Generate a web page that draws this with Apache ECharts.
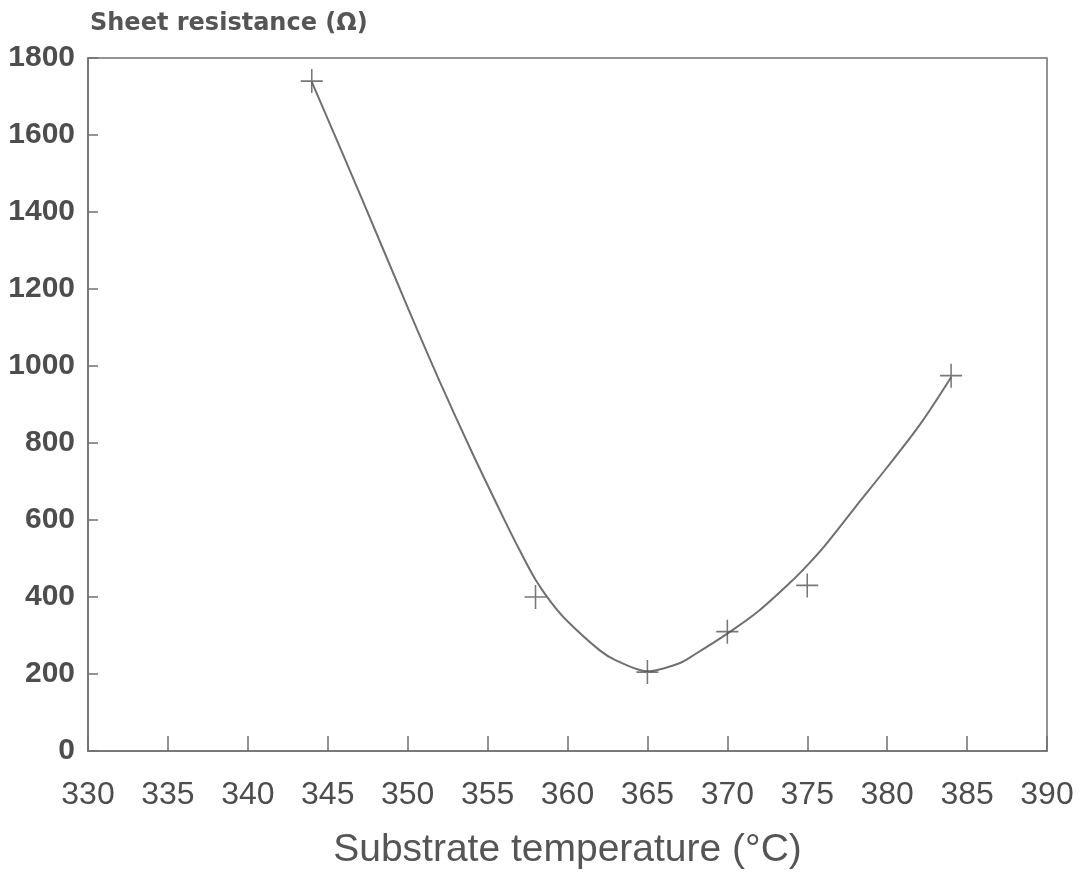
<!DOCTYPE html>
<html>
<head>
<meta charset="utf-8">
<script src="https://cdn.jsdelivr.net/npm/echarts@6/dist/echarts.min.js"></script>
<style>
  html, body { margin: 0; padding: 0; background: #fff; }
  #chart { width: 1085px; height: 876px; }
</style>
</head>
<body>
<div id="chart"></div>
<script>
// Measured sheet resistance versus substrate temperature
const temperatures = [344, 358, 365, 370, 375, 384];
const resistances = [1740, 400, 205, 310, 430, 975];

// Smooth fitted trend curve through the measurements
const fitTemperatures = [344, 347, 350, 352, 354, 356, 357, 358, 359, 360, 362, 363, 365, 367, 368, 370, 372, 374, 375, 376, 378, 380, 382, 384];
const fitResistances = [1738, 1448, 1152, 960, 778, 605, 522, 445, 385, 337, 262, 236, 207, 228, 252, 305, 365, 440, 482, 528, 633, 737, 845, 971];

const xTicks = [330, 335, 340, 345, 350, 355, 360, 365, 370, 375, 380, 385, 390];
const yTicks = [0, 200, 400, 600, 800, 1000, 1200, 1400, 1600, 1800];

const ink = '#4d4d4d';
const lineInk = '#707070';
const font = '"Liberation Sans", Arial, sans-serif';

const chart = echarts.init(document.getElementById('chart'), null, { renderer: 'canvas' });

chart.setOption({
  backgroundColor: '#ffffff',
  animation: false,
  graphic: [{
    type: 'text',
    left: 90,
    top: 12,
    style: {
      text: 'Sheet resistance (Ω)',
      fill: '#555',
      font: 'bold 24px "DejaVu Sans", sans-serif'
    }
  }],
  grid: {
    left: 88, right: 38, top: 58, bottom: 125,
    outerBoundsMode: 'none',
    show: true, borderColor: lineInk, borderWidth: 1.5, backgroundColor: 'transparent'
  },
  xAxis: {
    type: 'value',
    min: xTicks[0],
    max: xTicks[xTicks.length - 1],
    interval: 5,
    axisLine: { show: true, lineStyle: { color: lineInk, width: 1.5 } },
    axisTick: { show: true, inside: true, length: 15, lineStyle: { color: lineInk, width: 1.5 } },
    splitLine: { show: false },
    axisLabel: {
      color: ink, fontSize: 32, fontFamily: font, margin: 28,
      showMinLabel: true, showMaxLabel: true,
      formatter: v => String(v)
    },
    name: 'Substrate temperature (°C)',
    nameLocation: 'middle',
    nameGap: 80,
    nameTextStyle: { color: '#555', fontSize: 39, fontFamily: font }
  },
  yAxis: {
    type: 'value',
    min: yTicks[0],
    max: yTicks[yTicks.length - 1],
    interval: 200,
    axisLine: { show: true, lineStyle: { color: lineInk, width: 1.5 } },
    axisTick: { show: true, inside: true, length: 10, lineStyle: { color: lineInk, width: 1.5 } },
    splitLine: { show: false },
    axisLabel: {
      color: ink, fontSize: 30, fontFamily: font, fontWeight: 'bold', margin: 13,
      formatter: v => String(v)
    }
  },
  series: [
    {
      type: 'line',
      data: fitTemperatures.map((t, i) => [t, fitResistances[i]]),
      smooth: 0.3,
      showSymbol: false,
      lineStyle: { color: lineInk, width: 2 },
      z: 2
    },
    {
      type: 'scatter',
      data: temperatures.map((t, i) => [t, resistances[i]]),
      symbol: 'path://M10,0 L10,20 M0,10 L20,10',
      symbolSize: [22, 24],
      itemStyle: { color: 'transparent', borderColor: '#555', borderWidth: 1.6 },
      z: 3
    }
  ]
});
</script>
</body>
</html>
